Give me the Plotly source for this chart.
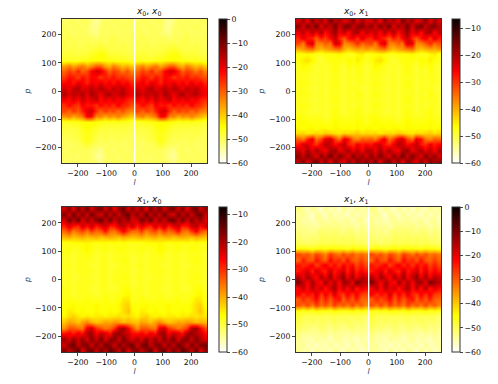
import numpy as np
import plotly.graph_objects as go

p_rows = [250,230,210,190,170,150,130,110,90,70,50,30,10,-10,-30,-50,-70,-90,-110,-130,-150,-170,-190,-210,-230,-250]
l_left = np.linspace(-248, -11, 16)
l_right = np.linspace(11, 248, 16)
l_full = np.arange(-248, 249, 16)

z_x0_x0 = [
[-51,-50,-50,-51,-50,-50,-52,-54,-52,-50,-51,-50,-50,-51,-50,-50],
[-50,-51,-50,-50,-51,-50,-53,-53,-51,-50,-50,-51,-50,-50,-50,-51],
[-50,-50,-51,-50,-50,-51,-52,-53,-50,-51,-50,-50,-51,-50,-51,-50],
[-50,-49,-50,-50,-50,-50,-50,-51,-50,-50,-50,-49,-50,-50,-50,-50],
[-49,-50,-49,-50,-50,-49,-50,-49,-49,-50,-49,-49,-50,-49,-50,-50],
[-49,-49,-49,-49,-49,-49,-48,-48,-47,-48,-49,-49,-49,-49,-49,-50],
[-48,-48,-48,-49,-48,-48,-47,-46,-45,-46,-48,-48,-48,-48,-49,-49],
[-47,-47,-47,-47,-46,-46,-45,-45,-45,-45,-46,-46,-47,-46,-47,-48],
[-36,-33,-37,-34,-32,-37,-34,-30,-30,-36,-38,-33,-36,-39,-37,-40],
[-31,-27,-30,-25,-31,-28,-22,-18,-19,-25,-31,-27,-29,-33,-29,-34],
[-27,-23,-24,-28,-23,-26,-22,-23,-27,-24,-26,-23,-27,-25,-28,-29],
[-22,-20,-24,-19,-21,-25,-20,-22,-19,-23,-20,-24,-19,-23,-21,-25],
[-18,-21,-17,-15,-20,-18,-16,-19,-15,-18,-21,-16,-19,-16,-20,-22],
[-15,-19,-16,-18,-15,-20,-14,-17,-21,-16,-14,-19,-17,-15,-19,-21],
[-20,-23,-18,-22,-17,-21,-19,-16,-23,-19,-22,-18,-22,-20,-24,-25],
[-26,-22,-25,-27,-21,-24,-23,-26,-22,-25,-23,-26,-21,-25,-26,-29],
[-28,-31,-27,-30,-25,-19,-18,-26,-31,-27,-30,-28,-32,-29,-33,-34],
[-35,-33,-37,-34,-32,-21,-22,-34,-33,-37,-34,-36,-33,-36,-38,-40],
[-47,-47,-46,-46,-45,-45,-45,-45,-46,-47,-46,-47,-46,-47,-47,-48],
[-48,-49,-48,-48,-46,-45,-46,-47,-48,-48,-49,-48,-49,-48,-49,-49],
[-49,-49,-49,-48,-47,-46,-47,-48,-49,-49,-49,-49,-49,-49,-49,-50],
[-50,-50,-49,-49,-47,-46,-47,-49,-50,-49,-50,-50,-49,-50,-50,-50],
[-50,-51,-50,-50,-49,-47,-49,-50,-50,-51,-50,-50,-50,-51,-50,-50],
[-51,-50,-50,-50,-50,-50,-51,-52,-53,-50,-50,-51,-50,-50,-51,-50],
[-50,-51,-50,-51,-50,-50,-51,-53,-54,-51,-50,-50,-51,-50,-50,-51],
[-51,-50,-51,-50,-50,-51,-50,-52,-53,-50,-51,-50,-50,-51,-50,-50],
]

z_x0_x1 = [
[-23,-19,-25,-17,-22,-19,-24,-16,-21,-19,-24,-22,-17,-24,-19,-23],
[-17,-23,-16,-21,-15,-24,-18,-22,-15,-23,-17,-15,-22,-18,-16,-21],
[-24,-21,-26,-20,-25,-19,-27,-22,-18,-25,-21,-27,-20,-19,-26,-21],
[-29,-24,-27,-29,-33,-28,-31,-26,-21,-29,-33,-27,-25,-30,-23,-28],
[-31,-36,-26,-22,-36,-36,-33,-35,-22,-24,-37,-36,-33,-29,-34,-32],
[-40,-38,-36,-35,-39,-41,-39,-38,-36,-35,-40,-42,-40,-39,-40,-38],
[-47,-47,-46,-47,-48,-48,-47,-47,-47,-46,-47,-48,-48,-46,-45,-48],
[-47,-45,-44,-46,-48,-49,-48,-47,-47,-47,-48,-46,-47,-45,-47,-48],
[-48,-46,-47,-48,-49,-48,-49,-48,-47,-48,-49,-47,-48,-47,-48,-49],
[-48,-47,-48,-48,-49,-48,-49,-48,-47,-48,-49,-48,-49,-47,-48,-49],
[-48,-48,-48,-49,-49,-48,-49,-48,-48,-48,-49,-48,-48,-48,-48,-49],
[-48,-47,-48,-48,-49,-48,-49,-48,-47,-48,-49,-48,-49,-48,-48,-49],
[-48,-48,-48,-49,-49,-48,-49,-48,-48,-48,-49,-48,-48,-48,-49,-49],
[-48,-47,-48,-48,-49,-48,-49,-48,-48,-48,-49,-48,-49,-47,-48,-49],
[-48,-48,-48,-49,-49,-48,-49,-48,-47,-48,-49,-48,-48,-48,-48,-49],
[-48,-47,-48,-48,-49,-48,-49,-48,-48,-48,-49,-48,-49,-48,-48,-49],
[-48,-48,-48,-49,-49,-48,-49,-48,-47,-48,-49,-48,-48,-47,-48,-49],
[-47,-47,-48,-48,-48,-48,-49,-48,-47,-48,-48,-48,-48,-47,-48,-48],
[-47,-46,-47,-47,-47,-47,-48,-47,-46,-47,-47,-47,-47,-46,-47,-48],
[-46,-47,-46,-46,-47,-46,-46,-47,-46,-46,-47,-46,-47,-46,-47,-46],
[-44,-43,-45,-44,-43,-44,-42,-43,-44,-45,-43,-44,-43,-42,-44,-43],
[-33,-36,-29,-24,-35,-31,-24,-22,-31,-35,-24,-27,-35,-37,-33,-34],
[-28,-23,-23,-27,-30,-25,-20,-22,-27,-24,-21,-28,-30,-25,-28,-26],
[-21,-25,-19,-24,-19,-24,-26,-20,-18,-25,-22,-19,-25,-21,-26,-20],
[-17,-22,-16,-20,-24,-17,-21,-15,-22,-16,-20,-24,-16,-21,-18,-23],
[-21,-16,-24,-18,-15,-23,-17,-25,-16,-21,-24,-17,-23,-16,-20,-17],
]

z_x1_x0 = [
[-23,-17,-25,-16,-22,-15,-24,-18,-16,-23,-17,-25,-18,-15,-23,-18],
[-17,-23,-15,-22,-17,-23,-15,-21,-24,-16,-22,-17,-23,-17,-15,-22],
[-23,-16,-21,-15,-24,-18,-23,-17,-15,-22,-16,-23,-17,-22,-18,-24],
[-29,-24,-28,-30,-23,-28,-22,-29,-25,-22,-29,-28,-23,-21,-27,-22],
[-35,-31,-37,-34,-32,-36,-31,-35,-33,-28,-35,-36,-31,-26,-32,-35],
[-41,-40,-42,-41,-40,-42,-41,-40,-42,-41,-40,-41,-42,-40,-41,-42],
[-48,-48,-47,-47,-47,-46,-47,-48,-47,-47,-48,-47,-48,-47,-48,-48],
[-48,-47,-48,-48,-47,-46,-47,-48,-48,-47,-48,-48,-47,-47,-48,-48],
[-48,-48,-49,-48,-48,-47,-48,-49,-48,-48,-49,-48,-48,-48,-48,-49],
[-49,-48,-49,-48,-48,-48,-48,-49,-48,-48,-49,-48,-48,-47,-48,-49],
[-48,-48,-49,-48,-48,-48,-49,-49,-48,-48,-49,-49,-48,-48,-48,-49],
[-49,-48,-49,-48,-48,-48,-48,-49,-48,-48,-49,-48,-48,-48,-48,-49],
[-48,-48,-49,-49,-48,-48,-49,-49,-48,-48,-49,-48,-48,-47,-48,-49],
[-49,-48,-49,-48,-48,-48,-48,-49,-48,-48,-49,-48,-48,-48,-48,-49],
[-48,-48,-49,-48,-48,-48,-49,-49,-48,-48,-49,-49,-48,-47,-47,-49],
[-48,-48,-49,-48,-48,-48,-48,-49,-48,-48,-48,-48,-48,-47,-46,-48],
[-48,-47,-48,-48,-48,-47,-48,-48,-48,-47,-48,-48,-47,-45,-45,-48],
[-47,-47,-46,-47,-47,-47,-47,-46,-47,-47,-47,-47,-46,-44,-43,-47],
[-47,-45,-46,-47,-46,-47,-47,-46,-47,-47,-46,-47,-46,-44,-42,-46],
[-46,-44,-43,-45,-46,-45,-46,-45,-45,-46,-45,-45,-44,-45,-44,-45],
[-42,-39,-40,-42,-39,-37,-40,-42,-41,-39,-40,-38,-39,-41,-40,-41],
[-38,-33,-33,-35,-36,-25,-23,-30,-33,-36,-34,-31,-21,-19,-26,-32],
[-28,-26,-29,-25,-28,-20,-19,-26,-22,-24,-28,-19,-18,-21,-23,-27],
[-19,-24,-18,-23,-18,-24,-17,-22,-16,-24,-18,-17,-23,-16,-21,-24],
[-23,-17,-15,-22,-18,-16,-23,-17,-22,-15,-18,-23,-16,-21,-17,-15],
[-17,-22,-18,-14,-24,-17,-15,-22,-16,-21,-14,-17,-22,-15,-24,-18],
]

z_x1_x1 = [
[-52,-54,-56,-53,-55,-57,-53,-56,-54,-57,-53,-55,-56,-53,-55,-54],
[-54,-53,-55,-57,-53,-55,-56,-53,-56,-54,-55,-57,-53,-56,-54,-55],
[-53,-55,-54,-56,-54,-53,-55,-54,-53,-55,-54,-53,-56,-54,-53,-56],
[-53,-53,-54,-53,-55,-53,-52,-53,-53,-52,-54,-53,-53,-55,-53,-54],
[-52,-53,-52,-54,-52,-51,-52,-51,-51,-52,-53,-51,-52,-53,-52,-53],
[-51,-52,-52,-51,-52,-50,-50,-51,-50,-51,-50,-51,-50,-52,-51,-52],
[-50,-50,-51,-50,-50,-49,-50,-49,-49,-50,-49,-50,-49,-50,-50,-51],
[-46,-45,-46,-47,-46,-45,-46,-45,-46,-45,-46,-47,-45,-46,-46,-47],
[-28,-31,-29,-33,-28,-31,-34,-27,-30,-33,-28,-32,-29,-33,-31,-33],
[-31,-24,-29,-30,-23,-28,-31,-22,-27,-25,-30,-23,-30,-31,-27,-31],
[-23,-26,-24,-21,-28,-23,-20,-26,-22,-27,-21,-25,-22,-28,-24,-28],
[-24,-21,-18,-25,-17,-23,-25,-16,-24,-20,-17,-25,-18,-25,-21,-24],
[-15,-21,-13,-19,-23,-14,-21,-13,-22,-16,-12,-21,-14,-22,-15,-18],
[-10,-17,-22,-14,-20,-23,-13,-21,-15,-22,-14,-13,-21,-9,-14,-16],
[-22,-16,-23,-15,-21,-17,-24,-18,-14,-23,-16,-23,-15,-24,-19,-22],
[-21,-26,-22,-25,-18,-27,-21,-26,-19,-25,-27,-21,-26,-21,-27,-28],
[-30,-25,-29,-26,-22,-30,-24,-30,-25,-23,-31,-25,-30,-24,-31,-31],
[-29,-32,-28,-33,-27,-32,-29,-33,-27,-32,-29,-33,-28,-33,-30,-34],
[-46,-47,-46,-47,-45,-46,-46,-47,-45,-46,-47,-46,-45,-47,-46,-47],
[-48,-49,-50,-49,-50,-49,-50,-49,-49,-50,-49,-50,-50,-49,-50,-51],
[-49,-50,-51,-50,-51,-50,-51,-51,-50,-51,-51,-50,-51,-51,-51,-52],
[-50,-52,-51,-53,-52,-51,-52,-53,-51,-52,-53,-52,-51,-53,-52,-53],
[-52,-53,-54,-53,-54,-52,-53,-54,-53,-54,-53,-55,-53,-54,-53,-54],
[-53,-55,-54,-56,-53,-55,-54,-56,-54,-53,-56,-54,-55,-56,-54,-55],
[-54,-53,-56,-54,-57,-54,-56,-53,-56,-55,-54,-57,-53,-56,-55,-54],
[-53,-55,-54,-57,-53,-56,-54,-57,-53,-55,-57,-53,-56,-54,-57,-55],
]

title_texts = ["<i>x</i><sub>0</sub>, <i>x</i><sub>0</sub>", "<i>x</i><sub>0</sub>, <i>x</i><sub>1</sub>",
               "<i>x</i><sub>1</sub>, <i>x</i><sub>0</sub>", "<i>x</i><sub>1</sub>, <i>x</i><sub>1</sub>"]
cmins = [-60, -60, -60, -60]
cmaxs = [0, -6.5, -7.2, 0]
tick_sets = [[0,-10,-20,-30,-40,-50,-60], [-10,-20,-30,-40,-50,-60], [-10,-20,-30,-40,-50,-60], [0,-10,-20,-30,-40,-50,-60]]
ax_ticks = [-200, -100, 0, 100, 200]

W, H = 498, 384
px = [(62, 207), (296, 441)]
py = [(19, 163), (207, 352)]
cbx = [219, 452]
hot_r = [[0, "#ffffff"], [0.254, "#ffff00"], [0.635, "#ff0000"], [1, "#0b0000"]]
FONT = "DejaVu Sans"
TICK = 7.8

fig = go.Figure()
panels = [z_x0_x0, z_x0_x1, z_x1_x0, z_x1_x1]
layout = {}
annotations = []
for i, z in enumerate(panels):
    r, c = i // 2, i % 2
    sfx = "" if i == 0 else str(i + 1)
    ca = "coloraxis" + sfx
    xa, ya = "x" + sfx, "y" + sfx
    if i in (0, 3):
        fig.add_trace(go.Heatmap(x=l_left, y=p_rows, z=z, coloraxis=ca, xaxis=xa, yaxis=ya, zsmooth="best"))
        fig.add_trace(go.Heatmap(x=l_right, y=p_rows, z=z, coloraxis=ca, xaxis=xa, yaxis=ya, zsmooth="best"))
    else:
        tiled = [row + row for row in z]
        fig.add_trace(go.Heatmap(x=l_full, y=p_rows, z=tiled, coloraxis=ca, xaxis=xa, yaxis=ya, zsmooth="best"))
    ax = dict(range=[-256, 256], tickvals=ax_ticks, ticks="outside", ticklen=3, tickwidth=0.8,
              showgrid=False, zeroline=False, showline=True, linecolor="#333", linewidth=1, mirror=True,
              tickfont=dict(family=FONT, size=TICK, color="#111"))
    layout["xaxis" + sfx] = dict(ax, domain=[px[c][0] / W, px[c][1] / W], anchor=ya,
                                 title=dict(text="<i>l</i>", font=dict(family=FONT, size=TICK), standoff=1))
    layout["yaxis" + sfx] = dict(ax, domain=[1 - py[r][1] / H, 1 - py[r][0] / H], anchor=xa,
                                 title=dict(text="<i>p</i>", font=dict(family=FONT, size=TICK), standoff=3))
    layout[ca] = dict(cmin=cmins[i], cmax=cmaxs[i], colorscale=hot_r,
                      colorbar=dict(x=cbx[c] / W, xanchor="left", xpad=0, ypad=0, thickness=8, thicknessmode="pixels",
                                    len=(py[r][1] - py[r][0]) / H, lenmode="fraction",
                                    y=1 - (py[r][0] + py[r][1]) / 2 / H, yanchor="middle",
                                    tickvals=tick_sets[i], ticks="outside", ticklen=3, tickwidth=0.8,
                                    outlinecolor="#333", outlinewidth=1,
                                    tickfont=dict(family=FONT, size=TICK, color="#111")))
    annotations.append(dict(text=title_texts[i], xref="paper", yref="paper", showarrow=False,
                            x=(px[c][0] + px[c][1]) / 2 / W, y=1 - (py[r][0] - 1) / H, yanchor="bottom",
                            font=dict(family=FONT, size=9, color="#111"), borderpad=0))

fig.update_layout(width=W, height=H, margin=dict(l=0, r=0, t=0, b=0), plot_bgcolor="white", paper_bgcolor="white",
                  annotations=annotations, autosize=False, **layout)
fig.write_html("out.html", config=dict(displayModeBar=False),
               post_script="document.body.style.margin='0';document.body.style.overflow='hidden';")
